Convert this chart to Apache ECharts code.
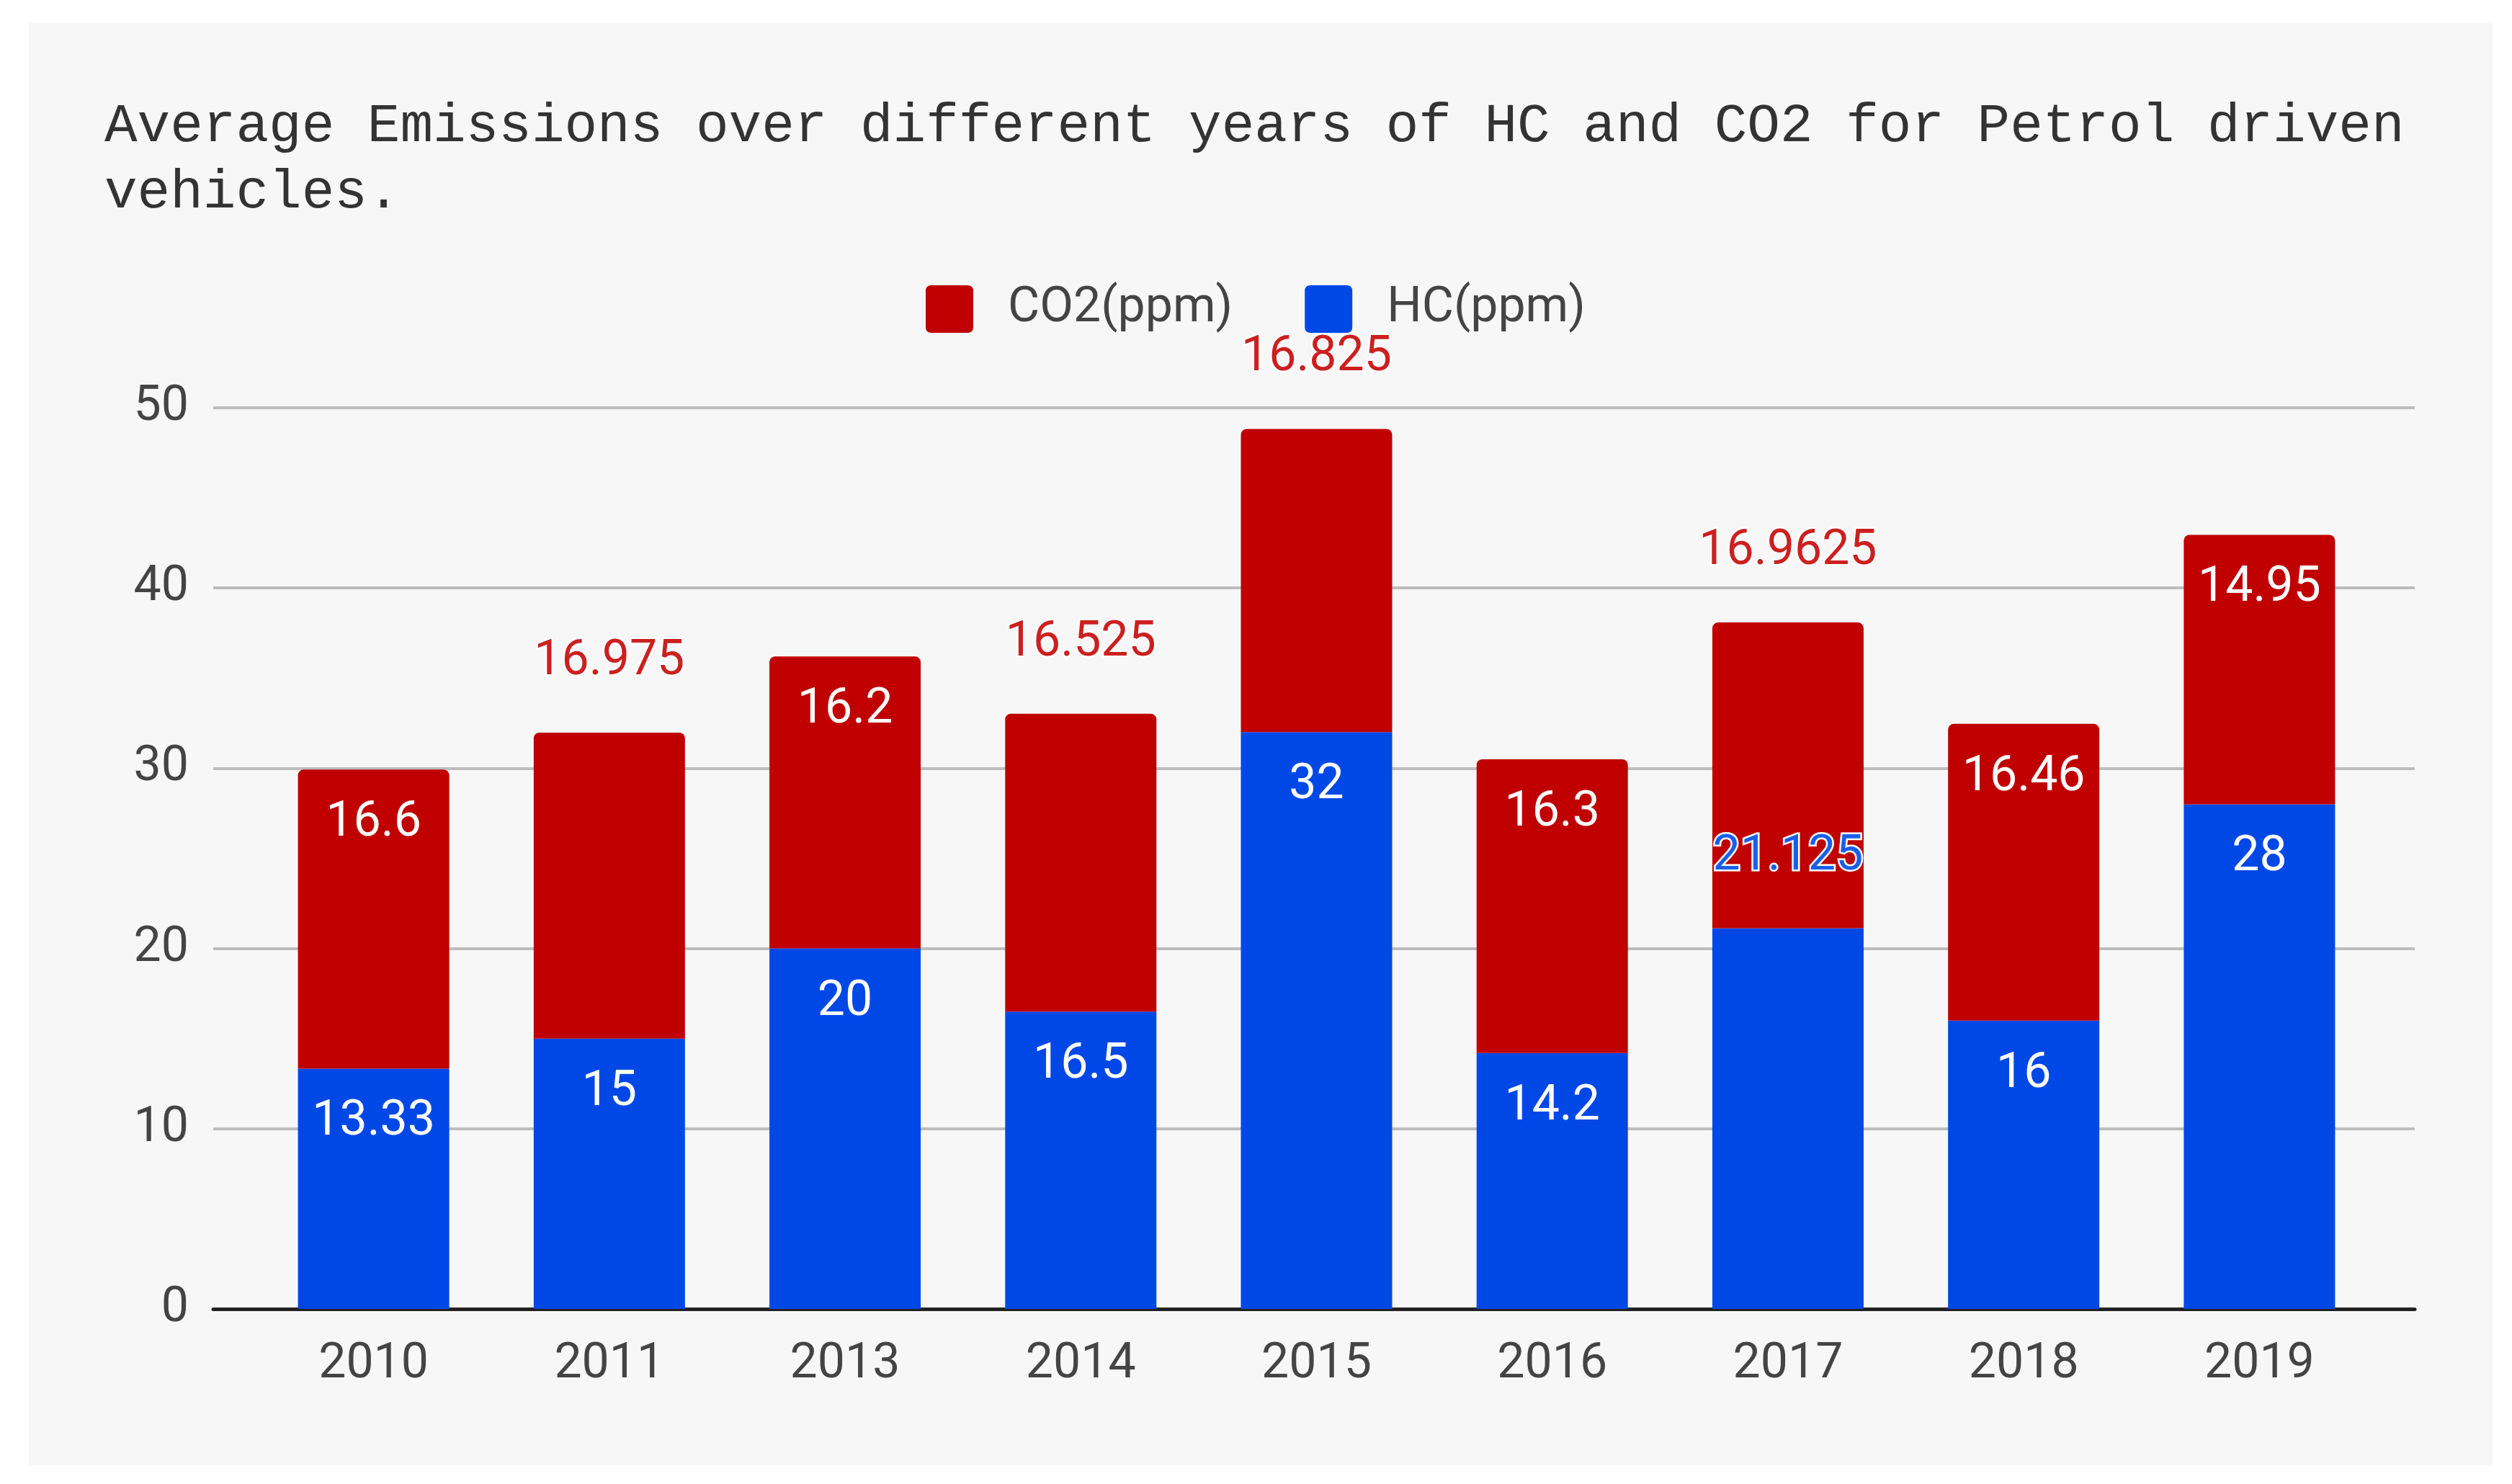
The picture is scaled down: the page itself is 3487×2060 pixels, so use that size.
<!DOCTYPE html>
<html>
<head>
<meta charset="utf-8">
<script src="https://cdn.jsdelivr.net/npm/echarts@6/dist/echarts.min.js"></script>
<style>
  html, body { margin: 0; padding: 0; background: #ffffff; }
  #chart { width: 3487px; height: 2060px; }
</style>
</head>
<body>
<div id="chart"></div>
<script>
// ---- data ----
const titleText = 'Average Emissions over different years of HC and CO2 for Petrol driven\nvehicles.';
const years = ['2010', '2011', '2013', '2014', '2015', '2016', '2017', '2018', '2019'];
const hcValues = [13.33, 15, 20, 16.5, 32, 14.2, 21.125, 16, 28];
const co2Values = [16.6, 16.975, 16.2, 16.525, 16.825, 16.3, 16.9625, 16.46, 14.95];
const seriesNames = ['CO2(ppm)', 'HC(ppm)'];
const yMin = 0, yMax = 50, yInterval = 10;

// ---- styles ----
const RED = '#c00000';
const BLUE = '#0048e6';
const RED_TEXT = '#cc2020';
const BLUE_TEXT = '#1a5fe8';
const FONT = 'Roboto';

// labels that are wider than the bar go above the segment (like the source chart)
function toData(values, outsideColor) {
  return values.map(v => {
    const outside = String(v).length >= 6;
    if (!outside) return { value: v };
    return {
      value: v,
      label: {
        position: 'top',
        distance: 64,
        color: outsideColor,
        textBorderColor: '#ffffff',
        textBorderWidth: 5
      }
    };
  });
}

const chart = echarts.init(document.getElementById('chart'), null, { renderer: 'canvas' });

const option = {
  backgroundColor: '#ffffff',
  animation: false,
  graphic: [{
    type: 'rect',
    z: -100,
    silent: true,
    shape: { x: 40, y: 32, width: 3420, height: 2002 },
    style: { fill: '#f7f7f7' }
  }],
  title: {
    text: titleText,
    left: 140,
    top: 125,
    textStyle: {
      fontFamily: 'Liberation Mono',
      fontWeight: 'normal',
      fontSize: 76,
      lineHeight: 92,
      color: '#333333'
    }
  },
  legend: {
    data: seriesNames,
    left: 1280,
    top: 390,
    itemWidth: 66,
    itemHeight: 66,
    itemGap: 100,
    icon: 'path://M8,0H58Q66,0 66,8V58Q66,66 58,66H8Q0,66 0,58V8Q0,0 8,0Z',
    textStyle: {
      fontFamily: FONT,
      fontSize: 68,
      color: '#444444',
      padding: [0, 0, 0, 43]
    }
  },
  grid: [
    { left: 296, right: 135, top: 566, bottom: 243 },
    { left: 355, right: 187, top: 566, bottom: 243 }
  ],
  xAxis: [
    {
      gridIndex: 0,
      type: 'category',
      data: years,
      axisLine: { show: true, lineStyle: { color: '#222222', width: 5 } },
      axisTick: { show: false },
      axisLabel: { show: false },
      splitLine: { show: false }
    },
    {
      gridIndex: 1,
      type: 'category',
      data: years,
      axisLine: { show: false },
      axisTick: { show: false },
      axisLabel: { fontFamily: FONT, fontSize: 68, color: '#444444', margin: 44 },
      splitLine: { show: false }
    }
  ],
  yAxis: [
    {
      gridIndex: 0,
      type: 'value',
      min: yMin,
      max: yMax,
      interval: yInterval,
      axisLine: { show: false },
      axisTick: { show: false },
      axisLabel: { fontFamily: FONT, fontSize: 68, color: '#444444', margin: 34 },
      splitLine: { show: true, lineStyle: { color: '#bdbdbd', width: 4 } }
    },
    {
      gridIndex: 1,
      type: 'value',
      min: yMin,
      max: yMax,
      interval: yInterval,
      show: false,
      splitLine: { show: false }
    }
  ],
  series: [
    {
      name: seriesNames[1],
      type: 'bar',
      stack: 'total',
      xAxisIndex: 1,
      yAxisIndex: 1,
      barWidth: 210,
      itemStyle: { color: BLUE },
      label: {
        show: true,
        position: 'insideTop',
        distance: 41,
        color: '#ffffff',
        fontFamily: FONT,
        fontSize: 68
      },
      data: toData(hcValues, BLUE_TEXT)
    },
    {
      name: seriesNames[0],
      type: 'bar',
      stack: 'total',
      xAxisIndex: 1,
      yAxisIndex: 1,
      barWidth: 210,
      itemStyle: { color: RED, borderRadius: [8, 8, 0, 0] },
      label: {
        show: true,
        position: 'insideTop',
        distance: 41,
        color: '#ffffff',
        fontFamily: FONT,
        fontSize: 68
      },
      data: toData(co2Values, RED_TEXT)
    }
  ]
};

chart.setOption(option);
</script>
</body>
</html>
